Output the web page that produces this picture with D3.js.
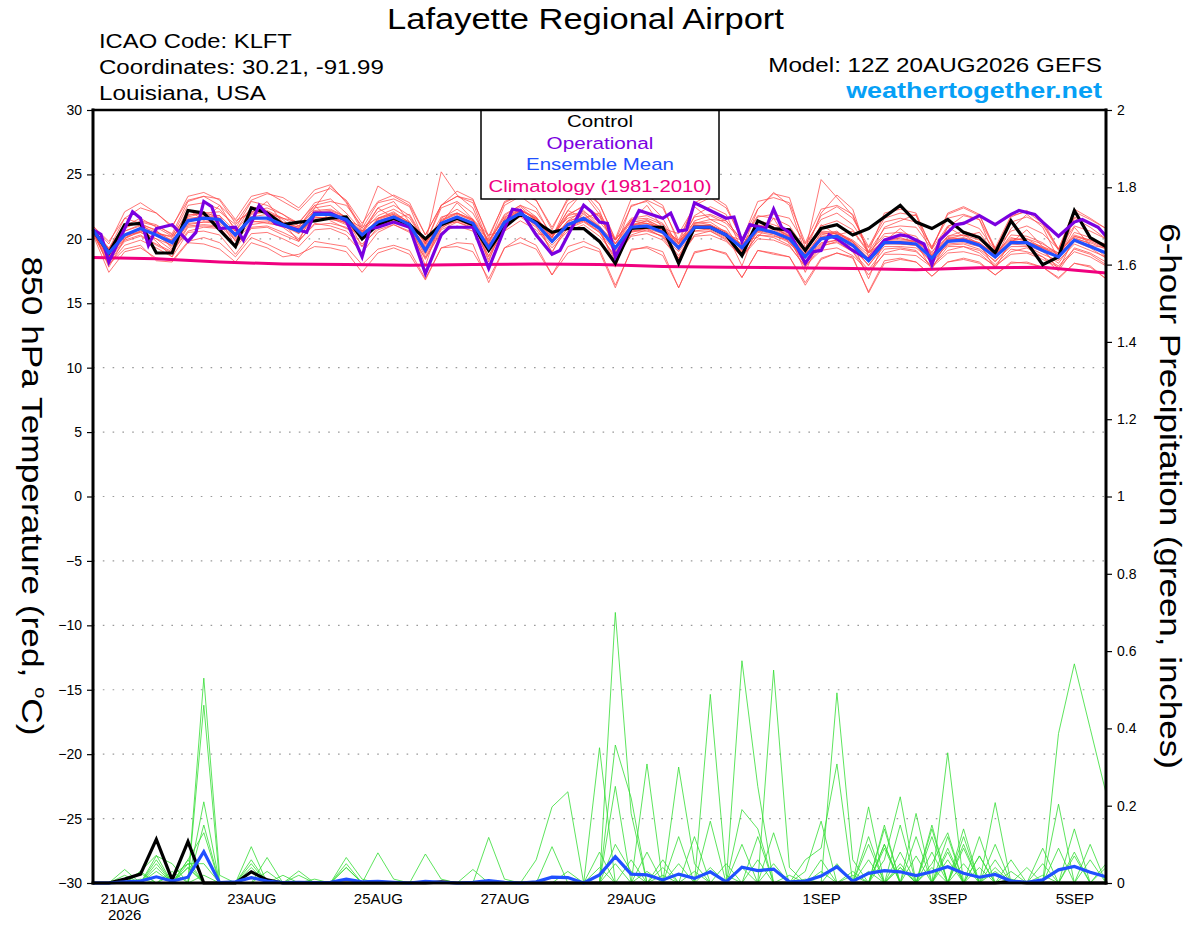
<!DOCTYPE html>
<html lang="en">
<head>
<meta charset="UTF-8">
<title>Lafayette Regional Airport - GEFS 850 hPa Temperature</title>
<script src="https://cdnjs.cloudflare.com/ajax/libs/d3/7.8.5/d3.min.js"></script>
<style>
  body { margin: 0; background: #fff; }
  svg { display: block; }
</style>
</head>
<body>
<div id="chart"></div>
<script>
// ---- data (6-hourly from 12Z 20AUG2026, 65 steps) ----
const controlTemp = [
  20.7,18.9,21.1,21.2,18.9,18.9,22.2,22.0,20.7,19.4,22.4,22.0,21.1,21.3,21.4,21.6,
  21.7,20.0,21.1,21.6,21.1,20.0,21.1,21.6,21.1,19.1,20.9,21.9,21.3,20.5,20.8,20.8,
  19.8,18.1,20.8,20.9,20.9,18.1,20.9,20.9,20.3,18.7,21.4,20.8,20.7,19.1,20.8,21.1,
  20.3,20.8,21.7,22.6,21.3,20.8,21.5,20.5,20.1,18.9,21.4,19.7,18.0,18.6,22.2,20.1,19.4
]
const meanTemp = [
  20.7,18.9,20.3,20.8,20.3,19.7,21.4,21.6,21.5,20.3,21.6,21.6,21.1,20.6,21.9,21.9,
  21.5,20.3,21.3,21.7,21.1,19.1,21.2,21.7,21.2,19.3,21.3,22.0,21.2,19.8,21.1,21.6,
  20.8,19.3,20.9,21.0,20.5,19.3,20.9,20.9,20.3,19.3,20.8,20.5,20.0,18.6,20.0,20.2,
  19.5,18.3,19.7,19.7,19.6,18.5,19.8,19.9,19.5,18.6,19.7,19.7,19.1,18.6,19.9,19.4,18.9
]
// operational run has 3-hourly output: forecast hour / value pairs
const opHours = [0,3,6,15,18,21,24,30,36,39,42,45,48,54,57,63,69,81,84,90,96,102,105,108,114,120,126,132,135,144,150,156,159,162,168,174,177,186,189,192,195,198,207,216,219,222,225,228,240,243,246,249,255,258,261,264,270,273,276,279,282,288,294,300,306,309,315,318,321,327,330,336,342,348,351,357,360,366,372,375,381,384]
const opTemp = [20.7,20.35,18.2,22.1,21.6,19.5,20.8,21.1,19.8,20.5,22.9,22.5,20.8,20.9,19.9,22.6,21.2,20.5,22.0,22.0,21.4,18.6,20.8,20.9,21.3,20.9,17.3,20.3,20.9,20.9,17.7,20.8,22.3,22.2,20.3,18.8,19.1,22.6,22.1,21.3,21.2,18.6,22.2,21.6,22.0,20.6,20.7,22.8,21.6,21.7,19.8,21.1,20.8,22.3,20.9,20.5,18.1,19.0,19.1,20.3,20.0,19.1,18.4,19.9,20.3,20.2,19.6,18.0,19.9,21.1,21.2,21.8,21.1,21.9,22.2,21.9,21.3,20.2,21.3,21.5,20.9,20.2]
// climatology, once a day
const climHours = [0,24,48,72,96,120,144,168,192,216,240,264,288,312,336,360,384]
const climTemp = [18.55,18.45,18.2,18.05,18.0,17.95,18.0,18.05,18.0,17.85,17.8,17.75,17.7,17.6,17.75,17.8,17.35]

const memberTemp = [
  [20.9,18.6,21.0,21.6,20.9,20.2,22.6,22.8,22.3,20.8,22.9,22.6,21.9,21.2,22.8,23.1,
   22.0,20.6,22.1,22.6,21.8,19.6,22.4,22.9,22.0,19.8,21.9,22.6,21.7,19.9,21.4,22.2,
   21.0,18.9,20.5,20.8,20.1,18.4,20.3,20.6,19.9,18.6,20.3,20.1,19.5,17.8,19.4,19.8,
   19.0,17.2,18.9,19.2,19.0,17.9,19.1,19.4,18.9,17.8,19.0,19.3,18.6,17.9,19.2,18.8,18.0],
  [20.5,18.2,19.8,20.2,19.6,19.0,20.6,20.9,20.8,19.3,20.8,20.9,20.3,19.8,21.2,21.0,
   20.6,19.4,20.9,21.5,20.9,18.6,20.8,21.6,21.3,19.6,21.8,22.6,22.1,20.3,21.9,22.5,
   21.8,19.9,21.6,21.8,21.2,19.6,21.7,21.9,21.4,19.9,21.8,21.6,21.0,19.2,21.0,21.4,
   20.7,19.0,20.8,21.0,20.9,19.2,21.0,21.3,20.8,19.1,20.6,21.0,20.4,19.2,21.0,20.6,20.0],
  [20.7,17.8,20.0,20.9,19.8,18.6,21.8,22.1,21.6,19.4,22.0,22.1,21.3,19.8,22.4,22.6,
   21.6,19.4,21.6,22.1,21.2,17.9,21.6,22.3,21.5,18.2,21.6,22.5,21.4,18.9,21.3,21.9,
   20.9,17.8,21.1,21.4,20.6,18.2,21.2,21.3,20.5,17.9,21.0,20.9,20.2,17.4,20.3,20.6,
   19.6,16.9,19.9,20.1,19.7,17.6,20.0,20.3,19.6,17.7,19.9,20.0,19.3,17.6,20.1,19.6,18.6],
  [21.0,19.8,21.6,22.4,22.0,21.0,23.0,23.3,23.1,21.5,23.3,23.6,22.9,22.2,23.5,23.9,
   23.0,21.2,22.9,23.4,22.8,20.3,22.6,23.3,23.0,20.2,22.8,23.4,23.0,20.9,23.0,23.7,
   22.7,19.9,22.5,23.0,22.4,19.9,22.6,23.2,22.4,20.0,22.3,23.5,23.2,19.3,21.8,22.5,
   21.6,19.4,21.6,22.0,21.8,19.3,21.9,22.4,21.8,19.3,21.8,22.1,21.2,19.2,22.1,21.5,20.8],
  [20.3,17.4,19.0,19.3,18.5,18.3,19.8,20.1,19.7,18.6,20.1,19.6,19.0,18.6,19.8,19.6,
   19.4,18.0,19.2,19.5,19.1,16.9,19.3,19.7,19.6,16.6,19.3,20.1,19.5,17.2,19.4,19.8,
   19.2,16.4,19.1,19.4,19.0,16.2,19.0,19.2,18.9,17.0,19.1,18.8,18.6,16.6,18.5,18.9,
   18.5,15.9,18.3,18.5,18.2,17.1,18.2,18.5,18.2,17.2,18.2,18.1,17.8,17.0,18.1,17.9,16.9],
  [20.8,19.2,20.9,21.3,21.0,20.4,22.9,23.3,22.6,20.6,22.5,22.2,21.6,21.0,22.4,24.1,
   22.9,20.8,22.8,23.1,22.5,19.6,25.2,23.4,22.4,19.5,21.4,22.2,21.6,20.1,22.2,23.7,
   22.2,19.1,21.0,21.4,20.9,19.1,21.2,21.5,20.9,19.0,21.4,21.1,20.6,19.0,24.6,23.2,
   21.8,18.9,20.4,20.5,20.2,18.7,20.2,20.6,20.2,18.7,20.3,20.2,19.7,18.7,20.5,20.1,19.5],
  [20.6,18.9,20.6,21.0,20.5,19.9,21.2,21.3,21.4,20.6,21.4,21.2,21.0,20.5,21.6,21.7,
   21.2,20.6,21.0,21.4,21.0,19.4,21.3,21.5,21.0,19.5,21.1,21.8,21.1,19.8,21.0,21.5,
   20.7,19.4,20.8,21.0,20.6,19.5,21.0,20.8,20.3,19.6,20.6,20.7,20.1,18.8,20.2,20.3,
   19.7,18.5,19.9,19.8,19.8,18.7,20.0,20.0,19.7,18.8,19.9,19.7,19.3,18.8,20.0,19.7,19.2],
  [20.5,18.4,19.9,20.3,19.5,18.9,20.9,21.0,20.9,19.5,20.9,21.0,20.5,19.9,21.1,21.2,
   20.9,19.6,20.7,21.1,20.5,18.5,20.5,21.0,20.6,18.7,20.6,21.4,20.7,19.3,20.6,21.1,
   20.2,18.7,20.2,20.4,19.9,18.5,20.2,20.3,19.8,18.6,20.0,19.9,19.4,17.9,19.1,19.3,
   18.7,17.5,18.8,18.8,18.7,17.8,18.9,19.0,18.7,17.9,18.8,18.9,18.4,17.8,19.0,18.6,17.9],
  [20.8,19.2,21.6,21.2,20.2,19.9,22.3,21.4,22.6,21.4,22.0,22.9,21.2,20.9,22.6,21.4,
   20.8,20.4,22.4,21.6,21.9,19.8,21.2,22.8,21.5,20.3,20.6,22.3,20.4,20.2,22.2,21.6,
   22.0,19.9,21.4,22.6,20.8,20.4,22.5,21.5,21.4,19.9,20.1,21.6,19.6,18.8,21.1,20.3,
   20.6,18.9,19.8,20.8,19.8,18.9,20.9,20.2,20.5,18.8,19.7,20.7,19.4,18.6,20.9,19.5,19.3],
  [20.6,18.7,20.1,20.5,20.0,19.5,21.1,21.3,21.2,20.0,21.3,21.4,21.0,20.4,21.7,21.6,
   21.1,20.0,21.1,21.5,20.8,18.8,20.9,21.4,21.0,19.0,21.1,21.7,20.9,19.5,20.8,21.3,
   20.5,19.0,20.6,20.6,20.2,19.0,20.6,20.6,20.0,19.0,20.5,20.3,19.7,18.3,19.7,19.9,
   19.2,18.0,19.4,19.4,19.3,18.3,19.5,19.6,19.2,18.3,19.4,19.4,18.8,18.3,19.6,19.1,18.6],
  [21.0,19.6,22.1,22.8,22.0,20.9,23.3,23.6,23.0,21.2,23.0,23.5,23.2,22.4,23.8,24.2,
   22.8,20.6,22.4,22.9,21.3,19.6,22.6,23.3,22.8,19.6,22.6,23.3,22.4,20.1,22.7,23.5,
   21.9,19.2,22.6,22.9,21.6,19.3,21.8,22.5,21.9,19.1,22.3,23.6,22.6,18.9,22.0,23.4,
   22.3,18.6,20.9,21.4,21.9,18.6,20.9,21.8,21.5,18.5,20.8,21.9,20.9,18.4,21.6,20.9,20.0],
  [20.5,18.0,19.5,19.9,19.3,18.6,20.5,20.6,20.3,18.8,20.4,20.5,20.0,19.4,20.7,20.8,
   20.3,18.9,20.5,21.1,20.6,18.4,20.7,21.3,20.9,19.1,21.4,22.2,21.7,20.1,21.8,22.6,
   21.7,19.6,21.5,21.6,21.1,19.2,21.4,21.8,21.2,19.8,21.7,21.9,21.6,19.6,21.5,22.0,
   21.1,19.3,21.3,21.6,21.3,19.4,21.6,21.9,21.5,19.2,21.3,21.7,21.1,19.1,21.7,21.2,20.4],
  [20.7,18.5,20.4,20.7,20.3,19.4,21.5,21.8,21.6,20.1,21.7,21.6,21.2,20.6,22.0,22.1,
   21.6,20.1,21.6,22.0,21.3,18.9,21.5,22.0,21.4,18.6,21.3,22.1,21.2,19.7,21.1,21.4,
   20.6,18.3,20.3,20.7,20.2,18.7,20.6,20.8,20.3,18.9,20.6,20.4,19.8,18.0,19.5,19.7,
   19.0,17.6,19.2,19.3,19.1,17.8,19.4,19.4,19.1,18.0,19.2,19.0,18.6,17.5,19.3,18.9,18.2],
  [20.8,18.8,20.2,20.6,20.5,20.1,21.7,22.0,22.1,21.1,22.3,22.0,21.6,21.3,22.6,22.9,
   22.6,21.0,24.1,23.3,22.6,20.3,22.6,23.7,23.1,20.0,22.9,23.4,23.0,20.7,23.2,24.0,
   22.7,20.0,23.1,23.3,22.6,19.6,22.8,23.4,22.6,19.9,22.9,23.2,22.8,19.7,22.3,22.6,
   21.9,19.0,22.0,22.3,22.0,19.2,22.0,22.5,21.9,19.1,21.7,22.2,21.4,19.2,22.3,21.6,20.8],
  [20.4,18.0,19.2,19.5,18.3,18.2,19.7,19.6,19.2,18.2,19.7,19.3,18.6,18.8,19.4,19.3,
   19.0,17.4,18.9,19.3,18.8,16.8,19.3,19.4,19.0,16.9,19.3,19.7,19.2,17.2,18.9,19.4,
   19.0,16.2,19.2,19.3,18.7,16.2,18.9,19.2,18.8,17.0,19.1,18.9,18.6,16.4,18.4,18.9,
   18.6,15.8,18.1,18.4,18.2,17.1,18.2,18.4,18.1,17.2,18.1,18.2,17.8,16.9,18.1,17.8,16.9],
  [20.6,18.9,20.8,21.4,21.1,20.3,21.9,21.9,21.8,20.6,22.1,22.4,21.9,21.0,22.2,22.3,
   21.7,20.5,21.8,22.3,21.6,19.7,21.4,22.0,21.5,19.3,21.5,22.3,21.4,20.1,21.8,22.1,
   21.3,19.9,21.4,21.2,20.7,19.9,21.3,21.1,20.5,19.5,21.1,20.8,20.3,18.8,20.4,20.4,
   19.8,18.7,20.0,19.9,19.9,18.8,20.1,20.0,19.6,18.9,20.1,19.8,19.4,18.9,20.2,19.9,19.4],
  [20.7,19.1,20.3,20.5,20.0,19.1,21.0,21.1,21.0,19.9,21.1,21.3,20.9,20.0,21.9,22.0,
   21.5,20.9,21.6,21.9,21.3,19.7,21.2,21.3,20.8,19.4,21.3,22.2,21.6,20.4,21.6,22.0,
   20.9,19.7,21.0,21.2,20.9,19.8,21.0,21.1,20.4,19.2,21.0,20.8,20.2,19.0,20.6,20.5,
   19.9,18.9,20.2,20.0,19.8,19.0,20.2,20.3,19.9,18.9,20.0,20.0,19.6,18.9,20.3,19.9,19.6],
  [20.9,18.3,20.6,21.1,20.7,19.2,21.3,21.6,21.8,19.8,21.9,22.1,21.5,20.4,22.0,21.8,
   21.2,20.2,21.5,21.9,21.1,18.9,21.0,21.5,21.2,18.4,21.0,21.9,21.0,19.0,20.9,21.4,
   20.5,18.5,20.6,20.8,20.4,18.5,20.9,20.7,20.1,18.6,20.3,20.2,19.9,18.2,19.6,19.9,
   19.4,17.9,19.6,19.6,19.5,18.1,19.6,19.7,19.4,18.2,19.6,19.5,19.0,18.1,19.8,19.3,18.5],
  [20.6,18.6,20.0,20.6,20.4,20.2,21.4,21.5,21.3,20.4,21.5,21.6,21.2,20.8,22.1,22.2,
   21.7,20.5,21.2,21.5,21.0,19.5,21.7,22.0,21.5,19.9,21.5,22.3,21.5,19.8,21.4,21.7,
   21.0,19.6,21.3,21.5,20.8,19.6,21.1,21.0,20.6,19.5,21.0,20.9,20.4,18.6,20.1,20.5,
   19.8,18.2,19.6,19.7,19.6,18.5,19.9,20.0,19.6,18.5,19.7,19.8,19.3,18.6,20.2,19.8,19.3],
  [20.7,19.3,21.0,21.2,20.6,19.8,21.6,21.7,21.5,20.2,21.7,21.9,21.3,20.9,21.7,21.5,
   21.3,20.3,21.4,21.8,21.2,19.3,21.4,21.9,21.4,19.8,21.7,22.3,21.5,20.3,21.2,21.6,
   20.9,19.3,21.1,21.2,20.7,19.7,21.0,21.0,20.3,19.9,20.7,20.5,20.2,18.5,20.5,20.4,
   19.8,18.4,19.7,19.6,19.5,18.6,19.9,20.1,19.7,18.7,19.8,19.8,19.2,18.5,19.9,19.5,18.9]
]

// 6-hour precipitation (inches)
const controlPrecip = [
  0,0,.01,.023,.113,.008,.107,0,0,0,.029,.008,0,0,0,0,
  0,0,0,0,0,0,.003,0,0,0,0,0,0,0,0,0,
  0,0,0,0,0,0,0,0,0,0,0,0,0,0,0,0,
  0,0,0,0,0,0,0,0,0,0,.004,0,0,0,0,0,0
]
const meanPrecip = [
  0,0,.003,.005,.016,.005,.015,.081,.001,.003,.014,.005,.001,.002,.001,.002,
  .01,.003,.004,.002,0,.004,.002,0,.002,.006,.002,0,.003,.015,.014,0,
  .021,.068,.023,.021,.008,.023,.012,.029,.003,.041,.032,.036,.003,.005,.018,.042,
  .005,.025,.032,.029,.019,.029,.042,.025,.015,.022,.005,.002,.008,.034,.043,.028,.016
]
const memberPrecip = [
  [0,0,.035,0,0,0,0,.02,0,0,0,0,0,0,0,0, 0,0,0,0,0,0,0,0,0,0,0,0,0,0,0,0,
   .35,0,0,0,0,0,0,0,0,0,.12,0,0,0,.06,0, 0,0,.15,0,0,.04,0,0,0,0,.01,0,0,0,0,0,0],
  [0,0,0,.025,0,0,.06,0,0,0,0,0,0,0,0,0, .04,0,0,0,0,0,0,0,0,0,0,0,0,0,0,0,
   0,.70,.18,0,0,0,0,0,0,.10,0,0,0,0,0,0, .02,0,0,0,0,.05,.13,0,0,0,0,0,0,.09,0,0,0],
  [0,0,.02,0,0,0,0,.21,0,0,0,0,0,.031,0,0, 0,0,0,0,0,0,0,0,0,0,0,0,0,0,0,0,
   0,.25,0,.08,0,0,0,0,0,0,0,.05,0,0,0,0, 0,0,.09,0,.12,0,0,0,0,.04,0,0,0,0,0,0,.04],
  [0,0,0,.03,.072,0,0,.15,0,0,0,0,0,0,0,0, 0,0,0,0,0,0,0,0,0,0,0,0,0,0,0,0,
   0,0,.06,0,0,0,0,0,0,0,0,.551,.04,0,0,0, 0,.06,0,0,0,0,.06,0,0,0,0,0,.05,0,0,0,0],
  [0,0,0,0,.07,.05,0,0,0,0,.094,0,0,0,0,0, 0,0,0,0,0,0,0,0,0,0,0,0,0,0,0,0,
   0,.357,.22,0,0,0,0,0,0,0,0,0,0,.01,0,0, 0,0,0,.04,0,0,0,.14,0,0,0,0,.09,0,0,0,0],
  [0,0,0,.03,0,0,0,.53,.02,0,0,.066,0,0,0,0, 0,0,0,0,0,0,0,0,0,0,0,0,0,0,0,0,
   0,0,0,0,0,0,0,.16,0,0,0,.13,0,0,0,0, 0,0,.06,.223,0,0,0,0,.07,0,0,0,0,0,.08,0,0],
  [0,0,0,0,0,0,.06,.13,0,0,0,0,0,0,0,0, 0,0,.078,.01,0,0,0,0,0,0,0,0,0,0,0,0,
   0,.05,0,0,0,0,0,0,0,0,0,0,0,.06,.09,.308, 0,0,0,0,0,.12,0,0,0,0,0,0,0,0,0,0,0],
  [0,0,0,.01,0,0,0,0,0,0,.06,0,0,0,0,0, 0,0,0,0,0,0,0,0,0,0,0,0,0,0,0,0,
   0,0,0,.308,0,0,0,0,0,0,0,0,.02,0,0,0, 0,.12,0,0,0,0,0,.05,0,0,.06,0,0,0,0,0,0],
  [0,0,0,0,.06,0,.05,.05,0,0,0,.03,0,0,0,0, 0,0,0,0,0,0,0,0,0,0,0,0,0,0,0,0,
   0,0,0,0,0,.30,.05,0,0,0,0,0,0,0,.03,0, 0,0,0,.04,0,.14,0,0,0,0,0,.04,0,0,0,0,0],
  [0,0,0,0,.05,0,0,0,0,0,0,0,0,0,0,0, 0,0,0,0,0,0,0,0,0,0,0,0,0,0,0,0,
   0,0,0,0,.06,0,0,.488,.02,0,0,0,0,0,0,0, 0,0,.10,0,0,0,.12,0,0,.10,0,0,0,0,0,.06,0],
  [0,0,0,0,0,.03,0,.46,0,0,0,0,0,0,0,0, 0,0,0,0,0,0,0,0,0,0,0,0,0,0,0,0,
   0,0,0,.03,0,.12,0,0,0,0,0,0,0,0,0,.492, .06,0,0,0,.07,0,0,0,.04,0,0,0,0,0,0,0,0],
  [0,0,0,0,.04,0,0,0,0,0,0,0,0,0,0,0, .066,.01,0,0,0,0,0,0,0,0,0,0,0,0,0,0,
   0,0,0,0,.04,0,0,0,0,.575,.25,0,0,0,0,0, 0,0,0,.05,0,0,.09,0,0,0,.03,0,0,0,0,0,0],
  [0,0,0,0,0,.02,.05,0,0,0,0,0,0,0,.01,0, 0,0,0,0,0,.075,.01,0,0,0,0,0,0,0,0,0,
   0,0,0,0,0,0,.12,0,0,0,0,0,0,0,0,0, 0,.197,0,0,0,0,0,.12,0,0,0,0,.02,0,0,0,0],
  [0,0,0,0,.03,0,0,0,0,0,0,0,0,0,0,0, .04,0,0,0,0,0,0,0,.035,0,0,0,0,0,0,0,
   0,0,0,0,.02,0,0,0,0,.19,.14,0,0,0,0,0, 0,0,.14,0,0,0,0,0,0,.06,0,0,0,0,.07,0,0],
  [0,0,0,0,0,0,.04,0,0,0,0,0,0,0,0,0, 0,0,0,0,0,0,0,0,0,.118,.01,0,0,0,0,0,
   0,0,0,0,0,.05,0,0,0,0,0,0,0,.03,.16,0, 0,0,0,0,0,.08,0,0,.12,0,0,0,0,0,0,0,.05],
  [0,0,0,0,0,0,0,0,0,0,.05,0,0,0,0,0, 0,0,0,0,0,0,0,0,0,0,0,0,.06,.197,.236,0,
   0,0,0,0,0,0,.03,0,0,0,0,0,0,0,0,.05, 0,0,.10,0,0,0,.08,0,0,.208,0,0,0,0,0,0,0],
  [0,0,0,0,0,0,0,0,0,0,.04,0,.02,0,0,0, 0,0,0,0,0,0,0,0,0,0,0,0,0,.094,0,0,
   0,0,0,0,0,0,0,.04,0,0,0,0,0,0,0,0, 0,0,0,.15,0,0,0,.09,0,0,0,0,0,.387,.567,.40,.233],
  [0,0,0,0,0,0,.04,0,0,0,0,0,0,0,0,0, .05,0,0,0,0,0,0,0,0,0,0,0,0,0,.03,0,
   .08,0,0,0,0,0,0,0,.05,0,0,0,0,0,0,0, 0,.10,0,0,.18,0,0,0,0,.03,0,0,0,.204,0,0,0],
  [0,0,0,0,0,0,0,0,0,0,.03,0,0,0,0,0, 0,0,0,0,0,0,0,0,0,0,0,0,0,0,0,0,
   .04,0,0,0,0,0,0,0,0,.04,0,0,0,0,0,0, .03,0,0,.08,0,.15,0,.10,0,0,0,0,0,0,.14,0,0],
  [0,0,0,0,0,0,0,0,0,0,0,0,0,.02,0,0, 0,0,0,0,0,0,0,0,0,0,0,0,0,0,0,0,
   0,.10,.03,0,0,0,0,0,0,0,.06,0,0,0,0,0, 0,.03,0,0,0,0,.337,0,.07,0,0,0,0,0,0,.10,0]
]

const tempTicks = [-30,-25,-20,-15,-10,-5,0,5,10,15,20,25,30]
const precipTicks = [0,0.2,0.4,0.6,0.8,1,1.2,1.4,1.6,1.8,2]
const dateTicks = ['2026-08-21','2026-08-23','2026-08-25','2026-08-27','2026-08-29','2026-09-01','2026-09-03','2026-09-05']

// ---- setup ----
const FONT = '"Liberation Sans", Arial, Helvetica, sans-serif'
const WIDTH = 1200, HEIGHT = 927
const LEFT = 93, RIGHT = 1106, TOP = 110, BOTTOM = 883

const COL_MEMBER_T = '#ff4a4a'
const COL_MEMBER_P = '#33dd33'
const COL_OPER = '#7a00e0'
const COL_MEAN = '#2050ff'
const COL_CLIM = '#f0007f'

const START = Date.UTC(2026, 7, 20, 12)
const hourToDate = h => new Date(START + h * 3600e3)
const times = controlTemp.map((d, i) => hourToDate(i * 6))

const svg = d3.select('#chart').append('svg')
  .attr('width', WIDTH)
  .attr('height', HEIGHT)
  .style('font-family', FONT)

svg.append('rect').attr('width', WIDTH).attr('height', HEIGHT).attr('fill', '#fff')

const x = d3.scaleUtc().domain([times[0], times[times.length - 1]]).range([LEFT, RIGHT])
const yT = d3.scaleLinear().domain([-30, 30]).range([BOTTOM, TOP])
const yP = d3.scaleLinear().domain([0, 2]).range([BOTTOM, TOP])

const lineT = d3.line().x((d, i) => x(times[i])).y(d => yT(d))
const lineP = d3.line().x((d, i) => x(times[i])).y(d => yP(d))

// the original font is wider than Liberation Sans: stretch each text to its width
function fit(t, px, py, rot, width) {
  const w = t.node().getComputedTextLength()
  t.attr('transform', `translate(${px},${py}) rotate(${rot}) scale(${(width / w).toFixed(3)},1)`)
  return t
}

// grid
svg.append('g')
  .selectAll('line')
  .data(tempTicks.filter(t => t > -30 && t < 30))
  .join('line')
  .attr('x1', LEFT).attr('x2', RIGHT)
  .attr('y1', d => yT(d)).attr('y2', d => yT(d))
  .attr('stroke', '#9a9a9a')
  .attr('stroke-width', 1.2)
  .attr('stroke-dasharray', '1.6,8.2')

// ensemble members
svg.append('g')
  .selectAll('path')
  .data(memberPrecip)
  .join('path')
  .attr('d', lineP)
  .attr('fill', 'none')
  .attr('stroke', COL_MEMBER_P)
  .attr('stroke-width', 0.8)

svg.append('g')
  .selectAll('path')
  .data(memberTemp)
  .join('path')
  .attr('d', lineT)
  .attr('fill', 'none')
  .attr('stroke', COL_MEMBER_T)
  .attr('stroke-width', 0.75)

// climatology
svg.append('path')
  .attr('d', d3.line().x((d, i) => x(hourToDate(climHours[i]))).y(d => yT(d))(climTemp))
  .attr('fill', 'none')
  .attr('stroke', COL_CLIM)
  .attr('stroke-width', 3)

// control
svg.append('path').attr('d', lineP(controlPrecip))
  .attr('fill', 'none').attr('stroke', '#000').attr('stroke-width', 3.2)
svg.append('path').attr('d', lineT(controlTemp))
  .attr('fill', 'none').attr('stroke', '#000').attr('stroke-width', 3.2)

// operational
svg.append('path')
  .attr('d', d3.line().x((d, i) => x(hourToDate(opHours[i]))).y(d => yT(d))(opTemp))
  .attr('fill', 'none')
  .attr('stroke', COL_OPER)
  .attr('stroke-width', 3.2)

// ensemble mean
svg.append('path').attr('d', lineP(meanPrecip))
  .attr('fill', 'none').attr('stroke', COL_MEAN).attr('stroke-width', 3.2)
svg.append('path').attr('d', lineT(meanTemp))
  .attr('fill', 'none').attr('stroke', COL_MEAN).attr('stroke-width', 3.2)

// legend
const legend = svg.append('g')
legend.append('rect')
  .attr('x', 481).attr('y', TOP).attr('width', 238).attr('height', 89)
  .attr('fill', '#fff').attr('stroke', '#000').attr('stroke-width', 1.5)
const legendItems = [
  { label: 'Control', color: '#000', w: 66 },
  { label: 'Operational', color: COL_OPER, w: 107 },
  { label: 'Ensemble Mean', color: COL_MEAN, w: 148 },
  { label: 'Climatology (1981-2010)', color: COL_CLIM, w: 223 }
]
legendItems.forEach((d, i) => {
  const t = legend.append('text')
    .attr('text-anchor', 'middle')
    .attr('font-size', 17)
    .attr('fill', d.color)
    .text(d.label)
  fit(t, 600, 127 + i * 21.6, 0, d.w)
})

// axes
const axisL = svg.append('g')
  .attr('transform', `translate(${LEFT},0)`)
  .call(d3.axisLeft(yT).tickValues(tempTicks).tickSize(6).tickPadding(5))
axisL.select('.domain').remove()
axisL.selectAll('text').attr('font-size', 14).attr('font-family', FONT).attr('fill', '#000')
axisL.selectAll('line').attr('stroke', '#000').attr('stroke-width', 1.2)

const axisR = svg.append('g')
  .attr('transform', `translate(${RIGHT},0)`)
  .call(d3.axisRight(yP).tickValues(precipTicks).tickSize(6).tickPadding(5)
    .tickFormat(d => String(+d.toFixed(1))))
axisR.select('.domain').remove()
axisR.selectAll('text').attr('font-size', 14).attr('font-family', FONT).attr('fill', '#000')
axisR.selectAll('line').attr('stroke', '#000').attr('stroke-width', 1.2)

const fmtDay = d3.utcFormat('%-d%b')
const axisB = svg.append('g')
  .attr('transform', `translate(0,${BOTTOM})`)
  .call(d3.axisBottom(x).tickValues(dateTicks.map(s => new Date(s + 'T00:00:00Z')))
    .tickSize(0).tickPadding(10)
    .tickFormat(d => fmtDay(d).toUpperCase()))
axisB.select('.domain').remove()
axisB.selectAll('text').attr('font-size', 15).attr('font-family', FONT).attr('fill', '#000')

svg.append('text')
  .attr('x', x(new Date(dateTicks[0] + 'T00:00:00Z')))
  .attr('y', 920)
  .attr('text-anchor', 'middle')
  .attr('font-size', 15)
  .text('2026')

// frame
const frame = svg.append('g').attr('stroke', '#000').attr('stroke-linecap', 'square')
frame.append('line').attr('x1', LEFT).attr('x2', RIGHT).attr('y1', TOP).attr('y2', TOP).attr('stroke-width', 2.5)
frame.append('line').attr('x1', LEFT).attr('x2', RIGHT).attr('y1', BOTTOM).attr('y2', BOTTOM).attr('stroke-width', 3)
frame.append('line').attr('x1', LEFT).attr('x2', LEFT).attr('y1', TOP).attr('y2', BOTTOM).attr('stroke-width', 3)
frame.append('line').attr('x1', RIGHT).attr('x2', RIGHT).attr('y1', TOP).attr('y2', BOTTOM).attr('stroke-width', 3)

// axis titles
const titleL = svg.append('text')
  .attr('text-anchor', 'middle')
  .attr('font-size', 30)
titleL.append('tspan').text('850 hPa Temperature (red, ')
titleL.append('tspan').attr('font-size', 17).attr('dy', -13).text('o')
titleL.append('tspan').attr('dy', 13).text('C)')
fit(titleL, 22, 496, 90, 479)

const titleR = svg.append('text')
  .attr('text-anchor', 'middle')
  .attr('font-size', 30)
  .text('6-hour Precipitation (green, inches)')
fit(titleR, 1160, 496, 90, 546)

// header texts
fit(svg.append('text')
  .attr('text-anchor', 'middle')
  .attr('font-size', 30)
  .text('Lafayette Regional Airport'), 585.5, 29, 0, 397)

const info = ['ICAO Code: KLFT', 'Coordinates: 30.21, -91.99', 'Louisiana, USA']
const infoW = [193, 285, 167]
info.forEach((s, i) => {
  fit(svg.append('text')
    .attr('font-size', 21)
    .text(s), 99, 48 + i * 26, 0, infoW[i])
})

fit(svg.append('text')
  .attr('text-anchor', 'end')
  .attr('font-size', 21)
  .text('Model: 12Z 20AUG2026 GEFS'), 1102, 72, 0, 334)

fit(svg.append('text')
  .attr('text-anchor', 'end')
  .attr('font-size', 22)
  .attr('font-weight', 'bold')
  .attr('fill', '#06a0f6')
  .text('weathertogether.net'), 1102, 98, 0, 256)
</script>
</body>
</html>
